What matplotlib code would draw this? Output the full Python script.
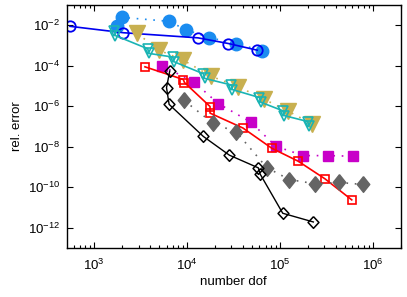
import numpy as np
import matplotlib
matplotlib.use('Agg')
import matplotlib.pyplot as plt
from matplotlib.ticker import LogLocator, FixedLocator, NullLocator

plt.rcParams['font.family'] = ['Liberation Sans', 'DejaVu Sans']
plt.rcParams['mathtext.default'] = 'regular'

# blue open circles, solid
dof_a = [547, 2054, 13100, 27800, 57000]
err_a = [8.9e-3, 4.3e-3, 2.4e-3, 1.26e-3, 5.9e-4]
# light blue filled circles, dotted
dof_b = [1758, 1986, 6380, 9730, 17200, 33650, 64100]
err_b = [8.9e-3, 2.47e-2, 1.57e-2, 6.0e-3, 2.49e-3, 1.26e-3, 5.5e-4]
# cyan open triangles, solid
dof_c = [1650, 1690, 3770, 3870, 7000, 7200, 15000, 15400, 29900, 30700,
         60100, 61900, 107500, 110500, 199000, 205000]
err_c = [5.3e-3, 3.1e-3, 6.9e-4, 4.1e-4, 2.7e-4, 1.6e-4, 4.0e-5, 2.4e-5,
         1.13e-5, 6.7e-6, 2.7e-6, 1.6e-6, 6.0e-7, 3.5e-7, 1.77e-7, 1.05e-7]
# tan filled triangles, dotted
dof_d = [2884, 4977, 9100, 17950, 35650, 67400, 121400, 220000]
err_d = [4.05e-3, 5.9e-4, 1.9e-4, 3.1e-5, 9.3e-6, 2.23e-6, 5.9e-7, 1.36e-7]
# red open squares, solid
dof_e = [3515, 9100, 9370, 17660, 17660, 40000, 81600, 157700, 306000, 594000]
err_e = [8.9e-5, 2.1e-5, 1.49e-5, 9.7e-7, 4.6e-7, 8.4e-8, 8.5e-9, 1.92e-9,
         2.6e-10, 2.38e-11]
# magenta filled squares, dotted
dof_f = [5320, 11860, 21680, 48400, 90700, 178700, 332000, 618000]
err_f = [1.02e-4, 1.58e-5, 1.36e-6, 1.66e-7, 1.05e-8, 3.66e-9, 3.66e-9, 3.4e-9]
# black open diamonds, solid
dof_g = [6500, 6000, 6400, 14950, 28500, 58500, 61000, 107200, 229000]
err_g = [5.5e-5, 8.3e-6, 1.24e-6, 3.24e-8, 3.86e-9, 9.1e-10, 4.6e-10,
         5.2e-12, 1.93e-12]
# gray filled diamonds, dotted
dof_h = [9270, 19000, 34000, 72100, 126200, 238800, 436500, 792000]
err_h = [1.95e-6, 1.45e-7, 5.3e-8, 9.4e-10, 2.4e-10, 1.49e-10, 1.72e-10, 1.37e-10]

tall_diamond = [(0, 1), (0.8, 0), (0, -1), (-0.8, 0), (0, 1)]
diamond = [(0, 1), (0.93, 0), (0, -1), (-0.93, 0), (0, 1)]
dots = (0, (1, 4))

fig = plt.figure(figsize=(4.07, 2.97), dpi=100)
ax = fig.add_axes([0.164, 0.165, 0.8205, 0.818])

ax.plot(dof_b, err_b, color='#1a8cf0', ls=dots, lw=1.2, marker='o', ms=9,
        mec='#1a8cf0', mfc='#1a8cf0')
ax.plot(dof_a, err_a, color='#0000f0', lw=1.2, marker='o', ms=7.5,
        mfc='none', mew=1.3)
ax.plot(dof_d, err_d, color='#c8b050', ls=dots, lw=1.2, marker='v', ms=12,
        mec='#c8b050', mfc='#c8b050')
ax.plot(dof_c, err_c, color='#1ab4b4', lw=1.2, marker='v', ms=7.5,
        mfc='none', mew=1.2)
ax.plot(dof_f, err_f, color='#c800c8', ls=dots, lw=1.2, marker='s', ms=7,
        mec='#c800c8', mfc='#c800c8')
ax.plot(dof_e, err_e, color='#ff0000', lw=1.2, marker='s', ms=6,
        mfc='none', mew=1.2)
ax.plot(dof_h, err_h, color='#646464', ls=dots, lw=1.2, marker=tall_diamond,
        ms=11.3, mec='#646464', mfc='#646464')
ax.plot(dof_g, err_g, color='black', lw=1.0, marker=diamond, ms=8.4,
        mfc='none', mew=1.1)

ax.set_xscale('log')
ax.set_yscale('log')
ax.set_xlim(505, 2.0e6)
ax.set_ylim(1e-13, 1e-1)

ax.xaxis.set_major_locator(LogLocator(base=10, numticks=10))
ax.xaxis.set_minor_locator(LogLocator(base=10, subs=np.arange(2, 10), numticks=20))
ax.yaxis.set_major_locator(FixedLocator([1e-12, 1e-10, 1e-8, 1e-6, 1e-4, 1e-2]))
ax.yaxis.set_minor_locator(NullLocator())
ax.tick_params(which='both', direction='in', top=True, right=True, labelsize=9.5,
               width=0.8)
ax.tick_params(axis='x', which='major', length=4, pad=7)
ax.tick_params(axis='y', which='major', length=4, pad=5)
ax.tick_params(which='minor', length=2)
for s in ax.spines.values():
    s.set_linewidth(1.0)

ax.set_xlabel('number dof', fontsize=9.5, labelpad=2)
ax.set_ylabel('rel. error', fontsize=9.5, labelpad=3)

fig.savefig('out.png', dpi=100)
